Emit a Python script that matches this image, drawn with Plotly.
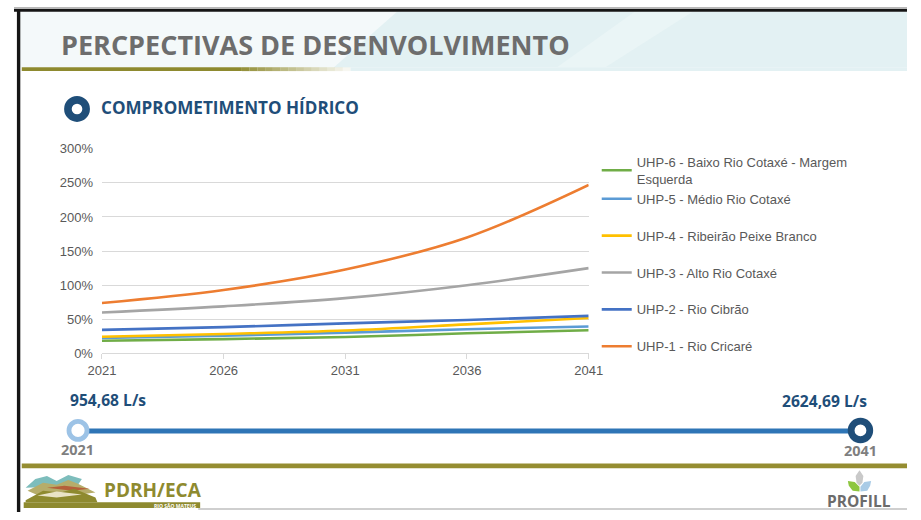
import plotly.graph_objects as go

# ---- data -------------------------------------------------------------
years = [2021, 2026, 2031, 2036, 2041]

series_names = [
    "UHP-6 - Baixo Rio Cotaxé - Margem<br>Esquerda",
    "UHP-5 - Médio Rio Cotaxé",
    "UHP-4 - Ribeirão Peixe Branco",
    "UHP-3 - Alto Rio Cotaxé",
    "UHP-2 - Rio Cibrão",
    "UHP-1 - Rio Cricaré",
]
uhp6 = [18.5, 21.0, 24.0, 29.5, 34.0]
uhp5 = [22.5, 26.0, 30.5, 35.5, 39.5]
uhp4 = [24.5, 28.5, 33.5, 42.5, 52.0]
uhp3 = [60.0, 69.0, 81.0, 100.0, 125.0]
uhp2 = [34.5, 38.5, 44.0, 49.0, 55.0]
uhp1 = [74.0, 93.0, 123.0, 170.0, 247.0]
series_values = [uhp6, uhp5, uhp4, uhp3, uhp2, uhp1]
series_colors = ["#70ad47", "#5b9bd5", "#ffc000", "#a5a5a5", "#4472c4", "#ed7d31"]

y_ticks = [0, 50, 100, 150, 200, 250, 300]
y_tick_labels = [f"{v}%" for v in y_ticks]
x_ticks = [2021, 2026, 2031, 2036, 2041]

flow_start_label = "954,68 L/s"
flow_end_label = "2624,69 L/s"
year_start_label = "2021"
year_end_label = "2041"

# ---- page geometry helpers (pixel -> paper) ---------------------------
W, H = 921, 520


def px(x):
    return x / W


def py(y):
    return 1 - y / H


fig = go.Figure()

for i, (name, vals, col) in enumerate(zip(series_names, series_values, series_colors)):
    fig.add_trace(go.Scatter(
        x=years, y=vals, name=name, mode="lines",
        line=dict(color=col, width=2.6, shape="spline", smoothing=1.0),
        legend="legend" if i == 0 else "legend2",
        legendgroup=f"g{i}",
        hoverinfo="skip",
    ))

shapes = []


def rect(x0, y0, x1, y1, color, opacity=1.0):
    shapes.append(dict(type="rect", xref="paper", yref="paper",
                       x0=px(x0), x1=px(x1), y0=py(y1), y1=py(y0),
                       fillcolor=color, line=dict(width=0), opacity=opacity,
                       layer="below"))


def poly(points, color, opacity=1.0, layer="below"):
    d = "M " + " L ".join(f"{px(x):.5f},{py(y):.5f}" for x, y in points) + " Z"
    shapes.append(dict(type="path", xref="paper", yref="paper", path=d,
                       fillcolor=color, line=dict(width=0), opacity=opacity,
                       layer=layer))


def ring(cx, cy, r_mid, width, color):
    shapes.append(dict(type="circle", xref="paper", yref="paper",
                       x0=px(cx - r_mid), x1=px(cx + r_mid),
                       y0=py(cy + r_mid), y1=py(cy - r_mid),
                       fillcolor="white", line=dict(color=color, width=width),
                       layer="above"))


# header band
rect(5, 5, W, 62, "#f4f9fa")
poly([(330, 62), (395, 5), (W, 5), (W, 62)], "#e3f1f3")
poly([(560, 62), (640, 5), (700, 5), (610, 62)], "#eaf5f6")
# olive underline fading out to the right
rect(8, 62, 235, 66, "#8e8a2f")
n_fade = 14
for k in range(n_fade):
    x0 = 235 + k * 8
    rect(x0, 62, x0 + 8, 66, "#8e8a2f", opacity=1 - (k + 1) / (n_fade + 1))
rect(347, 62, W, 66, "#e3f1f3")

# frame edges
rect(0, 0, W, 2, "#b8b8b8")
rect(0, 2, W, 5, "#151515")
rect(3, 2, 6.5, H, "#151515")
rect(190, 516, W, 518, "#cfcfcf")

# footer olive line
rect(8, 470, W, 475, "#958d31")

# timeline
shapes.append(dict(type="line", xref="paper", yref="paper",
                   x0=px(66), x1=px(873), y0=py(436.5), y1=py(436.5),
                   line=dict(color="#2e75b6", width=5), layer="above"))
ring(66, 436, 9.3, 4.8, "#9dc3e6")
ring(873, 436, 9.6, 6.8, "#1f4e79")

# section bullet next to subtitle
ring(65, 105, 9.4, 7.6, "#1f4e79")

# PDRH/ECA logo (stylised mountains)
poly([(12, 495), (22, 486), (34, 483), (44, 488), (56, 482), (70, 486), (66, 492), (40, 494)], "#7dbdbc")
poly([(14, 498), (30, 490), (44, 492), (56, 487), (66, 491), (84, 500), (60, 503), (30, 505)], "#b6ad6a")
poly([(34, 495), (52, 493), (78, 496), (60, 498)], "#b5603a")
poly([(12, 508), (30, 498), (48, 500), (62, 496), (84, 505), (86, 510), (12, 510)], "#8e8a2f")
poly([(24, 503), (44, 499), (70, 502), (44, 505)], "#e9e3c6")
rect(10, 510, 192, 516, "#8e8a2f")

# PROFILL logo leaves
poly([(872, 477), (876, 483), (875, 490), (872, 493), (869, 490), (868, 483)], "#c9c9c9", layer="above")
poly([(860, 488), (867, 489), (872, 494), (872, 499), (865, 498), (861, 493)], "#8dc63f", layer="above")
poly([(884, 488), (877, 489), (873, 494), (873, 499), (880, 498), (883, 493)], "#a9cbe6", layer="above")

annotations = []


def text(x, y, s, size, color, weight="normal", family="Open Sans", xanchor="left"):
    annotations.append(dict(x=px(x), y=py(y), xref="paper", yref="paper",
                            text=s, showarrow=False, xanchor=xanchor,
                            yanchor="middle",
                            font=dict(size=size, color=color, family=family,
                                      weight=weight)))


text(46, 39, "PERCPECTIVAS DE DESENVOLVIMENTO", 27, "#6d6d6d", weight="bold")
text(88, 104, "COMPROMETIMENTO HÍDRICO", 17.1, "#1f4e79", weight="bold")
text(97, 405, flow_start_label, 15.6, "#1f4e79", weight="bold", xanchor="center")
text(836, 406, flow_end_label, 15.6, "#1f4e79", weight="bold", xanchor="center")
text(66, 456, year_start_label, 14.5, "#7f7f7f", weight="bold", xanchor="center")
text(873, 457, year_end_label, 14.5, "#7f7f7f", weight="bold", xanchor="center")
text(143, 497, "PDRH/ECA", 19, "#8e8a2f", weight="bold", xanchor="center")
text(166, 513.5, "RIO SÃO MATEUS", 5, "white", weight="bold", xanchor="center")
text(872, 509, "PROFILL", 15.5, "#6b6b6b", weight="bold", xanchor="center")

axis_font = dict(family="Liberation Sans", size=13, color="#595959")

fig.update_layout(
    width=W, height=H,
    margin=dict(l=0, r=0, t=0, b=0),
    paper_bgcolor="white", plot_bgcolor="white",
    shapes=shapes, annotations=annotations,
    xaxis=dict(domain=[px(90.7), px(592.7)], range=[2021, 2041],
               tickvals=x_ticks, ticktext=[str(t) for t in x_ticks],
               showgrid=False, zeroline=False,
               showline=True, linecolor="#d9d9d9", linewidth=1,
               ticks="outside", ticklen=5, tickcolor="#d9d9d9",
               tickfont=axis_font, fixedrange=True),
    yaxis=dict(domain=[py(356.7), py(146)], range=[0, 300],
               tickvals=y_ticks, ticktext=y_tick_labels,
               showgrid=True, gridcolor="#d9d9d9", gridwidth=1,
               zeroline=False, showline=False, ticks="",
               ticklabelstandoff=8,
               tickfont=axis_font, fixedrange=True),
    legend=dict(x=px(601), y=py(144), xanchor="left", yanchor="top",
                bgcolor="rgba(0,0,0,0)", font=axis_font, itemwidth=30,
                tracegroupgap=0),
    legend2=dict(x=px(601), y=py(182), xanchor="left", yanchor="top",
                 bgcolor="rgba(0,0,0,0)", font=axis_font, itemwidth=30,
                 tracegroupgap=17),
    showlegend=True,
)

fig.write_html("out.html")
